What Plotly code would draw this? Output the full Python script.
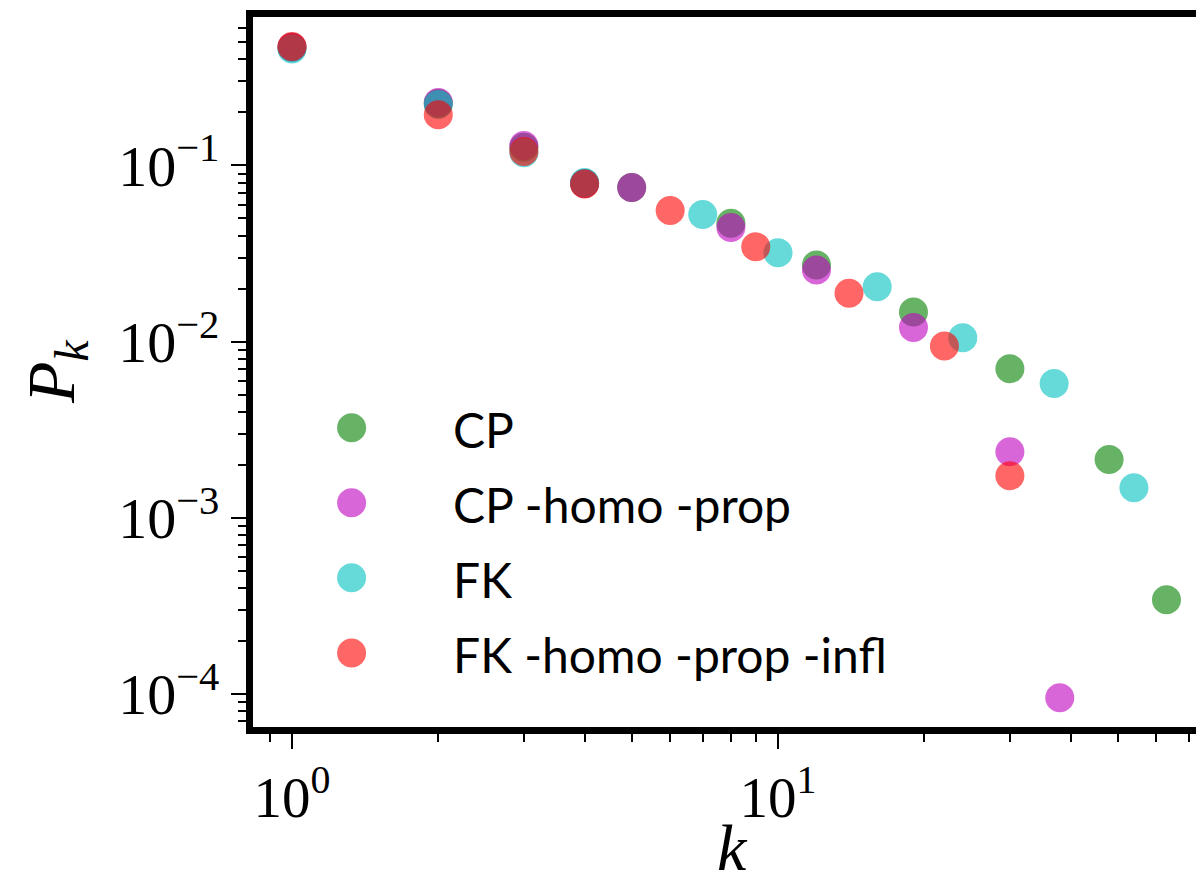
import plotly.graph_objects as go

# ---- data ----
series_names = ["CP", "CP -homo -prop", "FK", "FK -homo -prop -infl"]
series_colors = ["#008000", "#BF00BF", "#00BFBF", "#FF0000"]

k_cp = [1, 2, 3, 4, 5, 8, 12, 19, 30, 48, 63]
p_cp = [0.47, 0.225, 0.127, 0.079, 0.075, 0.047, 0.0272, 0.0147, 0.0070, 0.00214, 0.000342]

k_cp_hp = [1, 2, 3, 4, 5, 8, 12, 19, 30, 38]
p_cp_hp = [0.47, 0.228, 0.13, 0.079, 0.075, 0.0445, 0.0255, 0.012, 0.00237, 0.000095]

k_fk = [1, 2, 3, 4, 7, 10, 16, 24, 37, 54]
p_fk = [0.458, 0.222, 0.118, 0.080, 0.0527, 0.0319, 0.0205, 0.0105, 0.00577, 0.00148]

k_fk_hpi = [1, 2, 3, 4, 6, 9, 14, 22, 30]
p_fk_hpi = [0.474, 0.194, 0.12, 0.0785, 0.0555, 0.0345, 0.0188, 0.00942, 0.00173]

x_tickvals = [1, 10]
x_ticktext = ["10<sup>0</sup>", "10<sup>1</sup>"]
y_tickvals = [1e-4, 1e-3, 1e-2, 1e-1]
y_ticktext = ["10<sup>−4</sup>", "10<sup>−3</sup>", "10<sup>−2</sup>", "10<sup>−1</sup>"]

# ---- figure ----
W, H = 1204, 882
ML, MR, MT, MB = 245, 0, 9, 163
MSIZE = 29
OPAC = 0.6

fig = go.Figure()
all_k = [k_cp, k_cp_hp, k_fk, k_fk_hpi]
all_p = [p_cp, p_cp_hp, p_fk, p_fk_hpi]
for name, col, ks, ps in zip(series_names, series_colors, all_k, all_p):
    fig.add_trace(go.Scatter(
        x=ks, y=ps, mode="markers", name=name, showlegend=False,
        marker=dict(size=MSIZE, color=col, opacity=OPAC, line=dict(width=0)),
        xaxis="x", yaxis="y",
    ))

# manual legend (large markers) on an overlay axis in plot-area fractions
leg_x = 0.1028
leg_y0 = 0.4215
leg_dy = 0.1057
for i, (name, col) in enumerate(zip(series_names, series_colors)):
    yy = leg_y0 - i * leg_dy
    fig.add_annotation(
        x=0.2065, y=yy, xref="x2", yref="y2", text=name, showarrow=False,
        xanchor="left", yanchor="middle", yshift=-2,
        font=dict(family="Lato, Noto Sans, sans-serif", size=48, color="black"),
    )
    fig.add_trace(go.Scatter(
        x=[leg_x], y=[yy], mode="markers", showlegend=False, hoverinfo="skip",
        marker=dict(size=MSIZE, color=col, opacity=OPAC, line=dict(width=0)),
        xaxis="x2", yaxis="y2",
    ))

serif = "Liberation Serif, DejaVu Serif, serif"
minor_x = [0.9] + [m for m in range(2, 10)] + [m * 10 for m in range(2, 10)]
minor_y = [m * 10.0 ** e for e in range(-5, 0) for m in range(2, 10)]

fig.update_layout(
    width=W, height=H,
    margin=dict(l=ML, r=MR, t=MT, b=MB, pad=0),
    plot_bgcolor="white", paper_bgcolor="white",
    showlegend=False,
    xaxis=dict(
        type="log", range=[-0.0802, 1.893],
        tickmode="array", tickvals=x_tickvals, ticktext=x_ticktext,
        ticks="outside", ticklen=15, tickwidth=2, tickcolor="black",
        minor=dict(ticks="outside", ticklen=8, tickwidth=1.5, tickcolor="black",
                   tickmode="array", tickvals=minor_x, showgrid=False),
        showline=True, linewidth=7, linecolor="black", mirror=True,
        showgrid=False, zeroline=False,
        tickfont=dict(family=serif, size=57, color="black"),
    ),
    yaxis=dict(
        type="log", range=[-4.189, -0.1568],
        tickmode="array", tickvals=y_tickvals, ticktext=y_ticktext,
        ticks="outside", ticklen=15, tickwidth=2, tickcolor="black",
        minor=dict(ticks="outside", ticklen=8, tickwidth=1.5, tickcolor="black",
                   tickmode="array", tickvals=minor_y, showgrid=False),
        showline=True, linewidth=7, linecolor="black", mirror=False,
        showgrid=False, zeroline=False,
        tickfont=dict(family=serif, size=58, color="black"),
    ),
    xaxis2=dict(overlaying="x", range=[0, 1], visible=False, showgrid=False, zeroline=False),
    yaxis2=dict(overlaying="y", range=[0, 1], visible=False, showgrid=False, zeroline=False),
)

# axis titles
fig.add_annotation(
    x=0.5, y=0, xref="paper", yref="paper", yshift=-120, text="<i>k</i>",
    showarrow=False, xanchor="center", yanchor="middle",
    font=dict(family=serif, size=66, color="black"),
)
fig.add_annotation(
    x=0, y=0.5, xref="paper", yref="paper", xshift=-198,
    text="<i>P</i><sub><i>k</i></sub>", textangle=-90,
    showarrow=False, xanchor="center", yanchor="middle",
    font=dict(family=serif, size=68, color="black"),
)

fig.write_html("out.html")
